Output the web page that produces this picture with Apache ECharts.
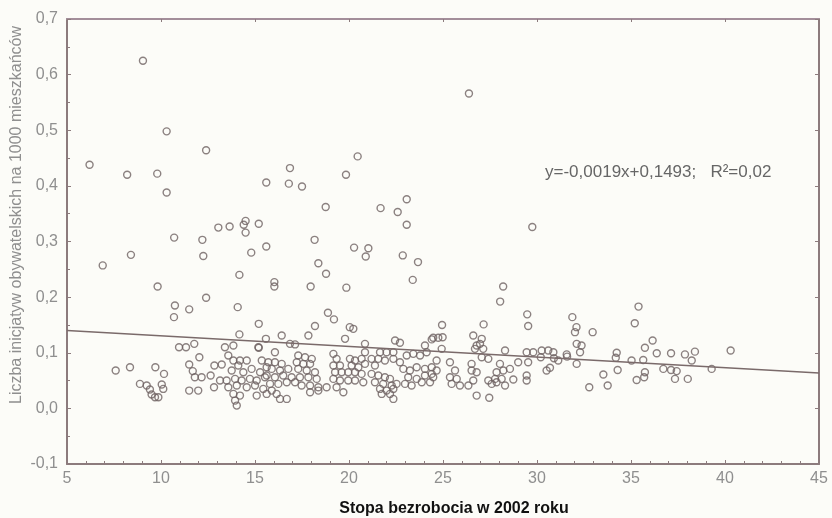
<!DOCTYPE html>
<html>
<head>
<meta charset="utf-8">
<script src="https://cdn.jsdelivr.net/npm/echarts@6.0.0/dist/echarts.min.js"></script>
<style>
  html, body { margin: 0; padding: 0; background: #fcfcf8; }
  #chart { width: 832px; height: 518px; }
</style>
</head>
<body>
<div id="chart"></div>
<script>
// punkty odstające (wysokie wartości)
var highPoints = [
  [9.04,0.625],[6.2,0.438],[8.2,0.42],[9.8,0.422],[10.3,0.498],[10.3,0.388],[12.4,0.464],[15.6,0.406],
  [10.7,0.307],[12.2,0.303],[13.05,0.325],[13.65,0.327],[14.4,0.330],[14.5,0.337],[14.5,0.316],[15.2,0.332],
  [15.6,0.291],[8.4,0.276],[12.25,0.274],[14.8,0.28],[20.46,0.453],[16.86,0.432],[19.84,0.42],[16.8,0.404],
  [17.5,0.399],[18.76,0.362],[21.68,0.36],[22.59,0.353],[23.07,0.376],[23.07,0.33],[18.17,0.303],[6.9,0.257],
  [20.27,0.289],[21.03,0.288],[20.89,0.273],[22.86,0.275],[23.67,0.263],[18.37,0.261],[18.78,0.242],[14.17,0.240],
  [16.03,0.227],[16.03,0.219],[9.82,0.219],[17.96,0.219],[19.86,0.217],[23.39,0.231],[12.4,0.199],[10.74,0.185],
  [11.5,0.178],[14.08,0.182],[10.69,0.164],[15.2,0.152],[18.19,0.148],[18.88,0.172],[19.2,0.160],[20.04,0.146],
  [20.23,0.143],[24.95,0.150],[29.75,0.326],[28.2,0.219],[28.04,0.192],[29.48,0.169],[29.53,0.148],[31.88,0.164],
  [35.4,0.183],[35.2,0.153],[27.16,0.151],[26.38,0.566]
];

// gęste pasmo punktów 5-25
var bandLeft = [
  [7.59,0.068],[8.35,0.074],[9.70,0.074],[10.16,0.062],[8.88,0.044],[9.24,0.041],[9.41,0.034],[9.5,0.025],
  [9.86,0.02],[9.68,0.02],[10.04,0.043],[10.12,0.035],[10.96,0.110],[11.33,0.110],[11.77,0.116],[12.04,0.092],
  [11.5,0.079],[11.69,0.067],[11.8,0.056],[12.16,0.056],[11.5,0.032],[11.98,0.032],[12.64,0.059],[12.84,0.077],
  [13.23,0.079],[12.82,0.038],[13.4,0.110],[13.85,0.113],[14.17,0.133],[15.18,0.110],[15.58,0.125],
  [13.58,0.095],[13.85,0.086],[14.2,0.086],[14.56,0.086],[14.11,0.077],[13.76,0.068],[14.38,0.065],[14.82,0.071],
  [15.27,0.065],[13.14,0.050],[13.49,0.050],[13.94,0.053],[14.29,0.050],[14.73,0.053],[15.09,0.050],[15.53,0.056],
  [13.58,0.038],[14.03,0.041],[14.56,0.038],[15.0,0.041],[15.44,0.035],[13.85,0.026],[14.2,0.023],[15.09,0.023],
  [15.62,0.026],[13.94,0.014],[14.03,0.005],[15.36,0.086],[15.71,0.083],[15.62,0.074]
];

var bandMiddle = [
  [17.84,0.131],[19.79,0.125],[16.42,0.131],[16.86,0.116],[17.13,0.115],[20.85,0.116],[22.45,0.122],[22.71,0.118],
  [24.04,0.113],[24.4,0.124],[16.06,0.101],[16.06,0.083],[16.42,0.080],[15.89,0.071],[16.33,0.068],[16.77,0.071],
  [15.62,0.059],[16.06,0.056],[16.5,0.059],[16.95,0.056],[15.8,0.044],[16.24,0.044],[16.69,0.047],[17.13,0.047],
  [15.89,0.032],[16.15,0.026],[16.33,0.017],[16.69,0.017],[17.3,0.095],[17.66,0.092],[18.02,0.089],[17.22,0.083],
  [17.57,0.080],[17.93,0.080],[17.3,0.071],[17.75,0.068],[18.19,0.065],[17.39,0.056],[17.84,0.056],[18.28,0.053],
  [17.48,0.041],[17.93,0.041],[18.37,0.038],[17.93,0.029],[18.37,0.032],[18.81,0.038],
  [19.17,0.098],[19.34,0.089],[19.17,0.077],[19.52,0.077],[19.26,0.065],[19.61,0.065],[19.17,0.053],[19.52,0.050],
  [19.34,0.038],[19.7,0.029],[20.05,0.089],[20.32,0.086],[20.67,0.089],[20.14,0.077],[20.5,0.074],[20.85,0.080],
  [19.96,0.065],[20.32,0.065],[20.67,0.062],[19.96,0.050],[20.32,0.050],[20.76,0.047],[20.85,0.101],[21.2,0.089],
  [21.38,0.077],[21.2,0.062],[21.56,0.059],[21.91,0.056],[22.18,0.053],[21.38,0.047],[21.82,0.044],[22.27,0.041],
  [21.65,0.035],[22.0,0.032],[22.36,0.035],[21.74,0.026],[22.18,0.026],[22.36,0.017],[22.53,0.044],
  [21.65,0.101],[22.0,0.101],[22.36,0.101],[21.56,0.089],[21.91,0.086],[22.36,0.089],[22.71,0.083],[23.07,0.095],
  [23.42,0.098],[23.78,0.095],[22.89,0.071],[23.24,0.068],[23.6,0.074],[24.04,0.071],[24.4,0.074],[23.15,0.056],
  [23.6,0.053],[24.04,0.059],[24.4,0.062],[22.98,0.044],[23.33,0.041],[23.87,0.047],[24.31,0.047],[24.13,0.101]
];

// pasmo 24-41
var bandRight = [
  [32.02,0.137],[32.1,0.146],[32.96,0.137],[24.48,0.127],[24.75,0.127],[24.98,0.128],[26.61,0.131],[27.06,0.125],
  [26.97,0.116],[24.93,0.107],[26.7,0.107],[27.14,0.107],[28.3,0.104],[29.45,0.101],[29.8,0.101],[30.25,0.104],
  [30.6,0.104],[30.87,0.101],[31.58,0.097],[32.11,0.116],[32.37,0.113],[32.29,0.101],[27.06,0.092],[27.41,0.089],
  [24.66,0.086],[25.37,0.083],[26.52,0.080],[28.03,0.080],[29.0,0.083],[29.53,0.083],[31.13,0.086],[32.11,0.080],
  [24.66,0.068],[25.64,0.068],[26.52,0.068],[26.79,0.065],[27.85,0.065],[28.21,0.068],[28.56,0.071],[30.51,0.068],
  [30.69,0.073],[24.48,0.056],[25.37,0.056],[25.73,0.053],[26.61,0.050],[27.41,0.050],[27.77,0.053],[28.12,0.053],
  [28.74,0.052],[29.45,0.059],[29.45,0.050],[25.46,0.044],[25.9,0.041],[26.35,0.041],[27.59,0.044],[27.85,0.047],
  [28.3,0.041],[26.79,0.023],[27.46,0.019],[32.78,0.038],[31.6,0.093],[30.2,0.092],[30.9,0.090],[26.79,0.113],
  [15.2,0.109],
  [36.15,0.122],[35.74,0.109],[36.37,0.099],[37.13,0.099],[37.87,0.097],[38.4,0.102],[40.3,0.104],[34.24,0.100],
  [34.19,0.091],[35.03,0.086],[35.65,0.087],[38.23,0.086],[33.53,0.061],[34.29,0.069],[35.74,0.065],[35.7,0.056],
  [35.3,0.051],[36.72,0.071],[37.13,0.069],[37.43,0.067],[37.34,0.053],[38.02,0.053],[39.29,0.071],[33.76,0.041]
];

// linia regresji: y = -0,0019x + 0,1493
var slope = -0.0019;
var intercept = 0.1493;
var lineX = [5, 45];

var points = highPoints.concat(bandLeft, bandMiddle, bandRight);

var dom = document.getElementById('chart');
var myChart = echarts.init(dom);

var axisColor = '#8c7b7d';
var labelColor = '#8f8f8f';
var font = 'Liberation Sans, Arial, sans-serif';

function comma(v, d) {
    return v.toFixed(d).replace('.', ',');
}

var option = {
    backgroundColor: '#fcfcf8',
    animation: false,
    grid: { left: 67, right: 13, top: 19, bottom: 54 },
    xAxis: [{
        type: 'value',
        min: 5, max: 45, interval: 5,
        position: 'bottom',
        axisLine: { onZero: false, lineStyle: { color: axisColor, width: 2 } },
        axisTick: { inside: true, length: 4, lineStyle: { color: axisColor } },
        minorTick: { show: true, splitNumber: 5, length: 3, lineStyle: { color: axisColor } },
        axisLabel: { color: labelColor, fontSize: 16, fontFamily: font, margin: 7 },
        splitLine: { show: false }
    }, {
        type: 'value',
        min: 5, max: 45, interval: 5,
        position: 'top',
        axisLine: { onZero: false, lineStyle: { color: '#a38e9a', width: 2 } },
        axisTick: { inside: true, length: 3, lineStyle: { color: axisColor } },
        axisLabel: { show: false },
        splitLine: { show: false }
    }],
    yAxis: [{
        type: 'value',
        min: -0.1, max: 0.7, interval: 0.1,
        position: 'left',
        axisLine: { show: true, onZero: false, lineStyle: { color: axisColor, width: 2 } },
        axisTick: { show: true, inside: true, length: 4, lineStyle: { color: axisColor } },
        minorTick: { show: true, splitNumber: 2, length: 3, lineStyle: { color: axisColor } },
        axisLabel: {
            color: labelColor, fontSize: 16, fontFamily: font, margin: 9,
            formatter: function (v) { return comma(v, 1); }
        },
        splitLine: { show: false }
    }, {
        type: 'value',
        min: -0.1, max: 0.7, interval: 0.1,
        position: 'right',
        axisLine: { show: true, onZero: false, lineStyle: { color: axisColor, width: 2 } },
        axisTick: { show: true, inside: true, length: 4, lineStyle: { color: axisColor } },
        axisLabel: { show: false },
        splitLine: { show: false }
    }],
    graphic: [{
        type: 'text',
        x: 17,
        y: 215,
        rotation: Math.PI / 2,
        style: {
            text: 'Liczba inicjatyw obywatelskich na 1000 mieszkańców',
            fill: labelColor,
            fontSize: 16,
            fontFamily: font,
            align: 'center',
            verticalAlign: 'middle'
        }
    }, {
        type: 'text',
        x: 454,
        y: 509,
        style: {
            text: 'Stopa bezrobocia w 2002 roku',
            fill: '#111',
            fontSize: 16,
            fontWeight: 'bold',
            fontFamily: font,
            align: 'center',
            verticalAlign: 'middle'
        }
    }, {
        type: 'text',
        x: 545,
        y: 172,
        style: {
            text: 'y=-0,0019x+0,1493;   R²=0,02',
            fill: '#666',
            fontSize: 17,
            fontFamily: font,
            verticalAlign: 'middle'
        }
    }],
    series: [{
        type: 'scatter',
        xAxisIndex: 0,
        yAxisIndex: 0,
        symbol: 'circle',
        symbolSize: 7,
        itemStyle: { color: 'rgba(0,0,0,0)', borderColor: '#6e6262', borderWidth: 1.4 },
        data: points
    }, {
        type: 'line',
        xAxisIndex: 0,
        yAxisIndex: 0,
        symbol: 'none',
        lineStyle: { color: '#7a6a6a', width: 1.5 },
        data: lineX.map(function (x) { return [x, slope * x + intercept]; })
    }]
};

myChart.setOption(option);
</script>
</body>
</html>
